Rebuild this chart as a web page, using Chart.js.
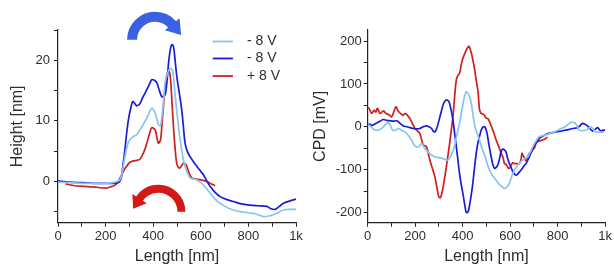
<!DOCTYPE html>
<html>
<head>
<meta charset="utf-8">
<script src="https://cdn.jsdelivr.net/npm/chart.js@4"></script>
<style>
  body { margin: 0; background: #fff; }
  #wrap { position: relative; width: 614px; height: 266px; }
  #heightChart { position: absolute; left: 0; top: 0; }
  #cpdChart { position: absolute; left: 307px; top: 0; }
</style>
</head>
<body>
<div id="wrap">
  <canvas id="heightChart" width="307" height="266"></canvas>
  <canvas id="cpdChart" width="307" height="266"></canvas>
</div>
<script>
// series labels and colours
const seriesLabels = ["- 8 V", "- 8 V", "+ 8 V"];
const seriesColors = ["#86c6ee", "#1c1cd8", "#cf1f1f"];

// tick positions (labelled ones are listed in the label maps)
const xTicks = [0,100,200,300,400,500,600,700,800,900,1000];
const xTickLabels = {0: "0", 200: "200", 400: "400", 600: "600", 800: "800", 1000: "1k"};
const heightTicks = [-5,0,5,10,15,20,25];
const heightTickLabels = [0,10,20];
const cpdTicks = [-200,-150,-100,-50,0,50,100,150,200];
const cpdTickLabels = [-200,-100,0,100,200];

// Height profile [nm] vs length [nm]
const hLightX = [0,50,100,150,200,240,260,270,281,292,302,315,330,345,358,375,394,408,422,430,436,444,450,460,471,482,494,505,513,524,534,545,555,570,583,604,620,639,660,681,710,737,770,807,835,863,885,905,925,947,970,1000];
const hLightY = [-0.1,-0.2,-0.3,-0.3,-0.3,-0.1,0.3,1.5,4.1,6.0,6.9,7.4,7.7,8.6,9.4,10.6,12.1,11.3,9.4,9.2,10.5,13.5,16.3,17.8,18.7,18.2,13.5,9.5,6.9,4.2,2.5,1.3,0.6,0.4,0.3,-0.3,-1.0,-1.9,-2.9,-3.6,-4.3,-4.7,-5.0,-5.2,-5.4,-5.8,-5.7,-5.5,-5.1,-4.7,-4.6,-4.6];

const hDarkX = [0,50,106,150,200,230,253,262,267,274,281,288,296,305,314,322,330,338,345,355,366,380,394,405,415,426,436,445,452,459,466,472,478,485,492,499,510,520,527,534,545,555,570,583,597,611,625,639,660,681,710,737,770,807,840,877,895,912,930,947,975,1000];
const hDarkY = [0.1,-0.1,-0.2,-0.3,-0.3,-0.3,-0.2,0.2,0.8,3.0,5.2,7.8,10.2,12.0,13.2,12.9,12.5,12.6,12.9,13.8,14.6,15.7,16.8,16.7,16.3,15.0,14.0,14.1,14.6,17.0,20.1,21.8,22.6,22.3,20.0,17.4,14.5,11.8,9.0,6.3,4.8,4.1,3.2,2.5,1.8,1.1,0.1,-0.8,-1.8,-2.5,-3.0,-3.3,-3.7,-3.9,-4.0,-4.1,-4.5,-4.6,-4.1,-3.6,-3.2,-2.9];

const hRedX = [32,70,106,150,200,220,240,255,267,278,288,300,317,332,345,360,373,384,394,408,416,422,431,437,443,450,457,466,473,479,485,492,499,510,520,527,534,541,550,562,580,597,625,645,660];
const hRedY = [-0.4,-0.7,-0.8,-0.9,-1.1,-0.9,-0.6,0.1,1.1,1.9,2.5,3.1,3.4,3.5,3.7,4.8,6.3,7.8,8.9,8.5,7.2,6.3,6.9,9.5,12.4,15.5,17.6,18.3,16.8,13.0,9.1,5.5,3.0,2.2,2.6,3.0,2.9,2.5,1.5,0.6,0.4,0.3,0.0,-0.4,-0.7];

// CPD [mV] vs length [nm]
const cLightX = [0,10,21,33,45,55,66,76,87,96,105,117,129,143,157,171,185,195,206,215,227,240,260,280,300,320,337,348,358,366,373,380,387,394,401,408,415,422,429,436,443,450,457,464,471,481,492,503,513,527,541,555,566,576,587,597,604,611,622,632,642,653,664,674,684,695,709,723,737,751,768,786,800,814,832,849,860,870,880,891,905,919,930,940,950,961,975,985,996];
const cLightY = [5,2,-4,-8,-8,-5,0,6,9,2,-8,-8,-4,-8,-12,-20,-31,-42,-47,-47,-39,-50,-62,-70,-72,-75,-78,-70,-58,-45,-25,-8,9,30,52,72,82,78,70,55,30,5,-10,-20,-31,-50,-66,-85,-101,-115,-125,-135,-140,-144,-140,-132,-120,-109,-98,-89,-83,-78,-74,-70,-60,-47,-33,-23,-21,-19,-16,-12,-8,-4,0,8,11,10,4,-8,-9,-8,-4,0,-6,-12,-12,-13,-12];

const cDarkX = [0,10,17,28,38,52,66,80,94,108,122,136,150,165,178,192,206,220,234,248,258,269,276,283,290,297,304,312,320,329,336,343,351,359,366,373,380,387,394,401,408,415,421,425,433,441,449,457,464,471,478,485,492,498,503,510,520,527,534,541,548,555,562,569,576,583,590,597,604,611,618,625,632,646,660,667,681,695,709,723,737,758,775,793,815,835,850,863,875,884,895,905,915,926,937,947,958,968,975,982,990,1000];
const cDarkY = [5,6,3,6,9,13,17,15,14,13,14,8,2,0,-2,-4,-5,-4,0,2,0,-4,-10,-12,-5,8,23,40,55,62,62,58,40,16,-15,-45,-78,-110,-135,-156,-180,-200,-200,-195,-170,-140,-100,-62,-38,-22,-8,-1,0,-6,-16,-40,-70,-88,-97,-95,-89,-75,-58,-52,-54,-60,-75,-86,-95,-105,-110,-113,-110,-101,-90,-86,-70,-51,-38,-27,-22,-16,-14,-12,-10,-8,-6,-4,-3,-2,3,8,6,2,-5,-10,-6,-2,-6,-10,-8,-8];

const cRedX = [0,6,17,27,34,41,52,66,75,83,92,101,110,119,125,131,140,150,157,164,171,178,188,199,210,220,227,234,241,248,256,264,274,283,291,299,305,310,318,327,336,345,352,359,366,373,380,387,394,401,408,415,421,427,435,443,450,457,465,471,478,485,492,499,506,513,520,530,541,551,562,570,576,583,590,597,604,611,618,628,639,646,650,655,660,667,674,681,688,695,702,712,723,737,751,757];
const cRedY = [45,43,31,39,34,43,31,37,32,30,27,23,35,47,40,35,30,27,31,29,24,19,8,-4,-10,-16,-30,-43,-44,-47,-65,-82,-100,-117,-140,-163,-166,-160,-140,-109,-75,-39,-8,23,70,109,120,125,145,160,170,179,185,188,175,156,135,109,80,40,31,30,27,20,19,12,2,-12,-31,-45,-62,-72,-86,-88,-95,-97,-90,-84,-86,-86,-86,-75,-62,-68,-72,-80,-70,-62,-60,-54,-50,-35,-33,-31,-27,-24];

const FONT = "'Liberation Sans', Arial, sans-serif";
const TXT = "#2e2e2e";

function pts(xs, ys) {
  return xs.map((x, i) => ({x: x, y: ys[i]}));
}

function makeSets(a, b, c) {
  return [a, b, c].map((d, i) => ({
    label: seriesLabels[i],
    data: d,
    borderColor: seriesColors[i],
    borderWidth: 1.7,
    pointRadius: 0,
    tension: 0.3,
    fill: false
  }));
}

function xAxis() {
  return {
    type: 'linear', min: 0, max: 1000,
    afterFit: s => { s.height = 43.3; },
    afterBuildTicks: s => { s.ticks = xTicks.map(v => ({value: v})); },
    ticks: {
      autoSkip: false, maxRotation: 0, padding: 2,
      color: TXT, font: {family: FONT, size: 13},
      callback: v => (xTickLabels[v] !== undefined ? xTickLabels[v] : '')
    },
    grid: {drawOnChartArea: false, drawTicks: true, tickLength: 4, color: '#222', tickWidth: 1},
    border: {display: true, color: '#222', width: 1.2},
    title: {display: true, text: 'Length [nm]', color: TXT, font: {family: FONT, size: 16}, padding: {top: 0, bottom: 0}}
  };
}

function yAxis(min, max, tickVals, labelVals, width, title, tpad, lpad) {
  return {
    type: 'linear', min: min, max: max,
    afterFit: s => { s.width = width; },
    afterBuildTicks: s => { s.ticks = tickVals.map(v => ({value: v})); },
    ticks: {
      autoSkip: false, padding: lpad,
      color: TXT, font: {family: FONT, size: 13},
      callback: v => (labelVals.includes(v) ? String(v) : '')
    },
    grid: {drawOnChartArea: false, drawTicks: true, tickLength: 4, color: '#222'},
    border: {display: true, color: '#222', width: 1.2},
    title: {display: true, text: title, color: TXT, font: {family: FONT, size: 16}, padding: {top: tpad, bottom: 0}}
  };
}

// curved arrow drawn around a point given in data units
function arcArrow(ctx, cx, cy, r, w, a0, a1, ccw, color) {
  ctx.save();
  ctx.strokeStyle = color;
  ctx.fillStyle = color;
  ctx.lineWidth = w;
  ctx.lineCap = 'butt';
  ctx.beginPath();
  ctx.arc(cx, cy, r, a0, a1, ccw);
  ctx.stroke();
  const ex = cx + r * Math.cos(a1), ey = cy + r * Math.sin(a1);
  const nx = Math.cos(a1), ny = Math.sin(a1);
  const tx = ccw ? Math.sin(a1) : -Math.sin(a1);
  const ty = ccw ? -Math.cos(a1) : Math.cos(a1);
  const half = w / 2 + 4.5;
  ctx.beginPath();
  ctx.moveTo(ex - nx * half - tx, ey - ny * half - ty);
  ctx.lineTo(ex + nx * half - tx, ey + ny * half - ty);
  ctx.lineTo(ex + tx * (w + 3), ey + ty * (w + 3));
  ctx.closePath();
  ctx.fill();
  ctx.restore();
}

const heightDecor = {
  id: 'heightDecor',
  afterDraw(chart) {
    const ctx = chart.ctx, xs = chart.scales.x, ys = chart.scales.y;
    // arrows
    arcArrow(ctx, xs.getPixelForValue(408), ys.getPixelForValue(23.4), 23, 10,
      Math.PI, Math.PI * 1.78, false, '#3c60e2');
    arcArrow(ctx, xs.getPixelForValue(422), ys.getPixelForValue(-5.0), 23, 8,
      0, -Math.PI * 0.82, true, '#d41818');
    // legend
    const rows = [23.1, 20.3, 17.4];
    ctx.save();
    ctx.font = '14px ' + FONT;
    ctx.textBaseline = 'middle';
    rows.forEach((v, i) => {
      const y = ys.getPixelForValue(v);
      ctx.strokeStyle = seriesColors[i];
      ctx.lineWidth = 1.8;
      ctx.beginPath();
      ctx.moveTo(xs.getPixelForValue(650), y);
      ctx.lineTo(xs.getPixelForValue(735), y);
      ctx.stroke();
      ctx.fillStyle = TXT;
      ctx.fillText(seriesLabels[i], xs.getPixelForValue(794), y);
    });
    ctx.restore();
  }
};

new Chart(document.getElementById("heightChart"), {
  type: 'line',
  data: {datasets: makeSets(pts(hLightX, hLightY), pts(hDarkX, hDarkY), pts(hRedX, hRedY))},
  options: {
    responsive: false, animation: false, devicePixelRatio: 1,
    layout: {padding: {left: 0, top: 30, right: 11, bottom: 0}},
    plugins: {legend: {display: false}, tooltip: {enabled: false}},
    scales: {x: xAxis(), y: yAxis(-6.8, 25, heightTicks, heightTickLabels, 58, 'Height [nm]', 8, 4)}
  },
  plugins: [heightDecor]
});

new Chart(document.getElementById("cpdChart"), {
  type: 'line',
  data: {datasets: makeSets(pts(cLightX, cLightY), pts(cDarkX, cDarkY), pts(cRedX, cRedY))},
  options: {
    responsive: false, animation: false, devicePixelRatio: 1,
    layout: {padding: {left: 0, top: 30, right: 8, bottom: 0}},
    plugins: {legend: {display: false}, tooltip: {enabled: false}},
    scales: {x: xAxis(), y: yAxis(-224, 226, cpdTicks, cpdTickLabels, 60.7, 'CPD [mV]', 4, 2)}
  }
});
</script>
</body>
</html>
